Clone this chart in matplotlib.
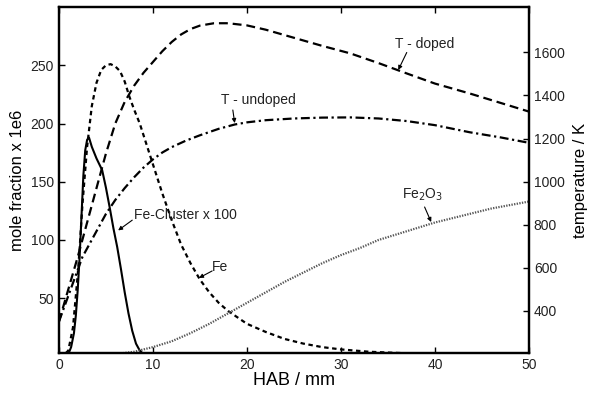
import matplotlib
matplotlib.use('Agg')
import matplotlib.pyplot as plt

plt.rcParams['font.family'] = ['Liberation Sans', 'DejaVu Sans']

# --- data (HAB in mm) ---
fe_cluster_x = [0, 0.5, 1.0, 1.3, 1.6, 1.8, 2.0, 2.2, 2.4, 2.6, 2.8, 3.0, 3.2, 3.5, 4.0,
                4.6, 5.0, 5.4, 5.8, 6.2, 6.6, 7.0, 7.4, 7.8, 8.2, 8.6, 9.0, 9.5, 10]
fe_cluster_y = [0, 0, 2, 8, 20, 35, 57, 85, 120, 155, 177, 186, 188, 180, 170,
                160, 145, 128, 110, 94, 75, 55, 37, 22, 11, 5, 2, 0, 0]

fe_x = [0, 0.5, 1.0, 1.5, 2.0, 2.2, 2.5, 3.0, 3.5, 4.0, 4.5, 5.0, 5.5, 6.0, 6.5, 7.0,
        7.5, 8.0, 8.6, 9.0, 10, 11, 12, 13, 14, 15, 16, 17, 18, 20, 22, 24, 26, 28,
        30, 33, 36, 40, 45, 50]
fe_y = [0, 1, 5, 25, 70, 92, 130, 180, 215, 235, 246, 250, 251, 249, 245, 236,
        223, 212, 200, 190, 165, 140, 117, 96, 80, 66, 55, 46, 39, 28, 21, 15, 11, 8,
        6, 4, 3, 2, 1.5, 1]

fe2o3_x = [0, 2, 4, 6, 8, 10, 12, 14, 16, 18, 20, 22, 24, 26, 28, 30, 32, 34, 36,
           38, 40, 42, 44, 46, 48, 50]
fe2o3_y = [0, 0, 0.5, 2, 4, 8, 13, 20, 28, 37, 46, 55, 64, 72, 80, 87, 93, 100, 105,
           110, 115, 119, 123, 127, 130, 133]

t_doped_x = [0, 1, 2, 3, 4, 5, 6, 7, 8, 9, 10, 11, 12, 13, 14, 15, 16.5, 18, 20,
             22, 24, 26, 28, 31, 34, 37, 40, 43.7, 47, 50]
t_doped_y = [350, 500, 650, 810, 970, 1130, 1270, 1370, 1445, 1505, 1555, 1605, 1648,
             1683, 1708, 1724, 1735, 1735, 1725, 1705, 1680, 1655, 1630, 1595, 1550,
             1502, 1455, 1409, 1365, 1325]

t_undoped_x = [0, 1, 2, 2.5, 3, 4, 5, 6, 7, 8, 9, 10, 11, 12, 13.5, 15, 17, 18.7, 20,
               22, 25, 28, 31, 34, 37, 40, 43.7, 47, 50]
t_undoped_y = [350, 470, 590, 650, 690, 770, 850, 915, 970, 1020, 1065, 1103, 1135,
               1160, 1190, 1215, 1245, 1265, 1275, 1285, 1293, 1297, 1298, 1293, 1281,
               1262, 1229, 1205, 1180]

fig = plt.figure(figsize=(5.95, 3.93), dpi=100)
ax = fig.add_axes([0.099, 0.102, 0.79, 0.88])
ax2 = ax.twinx()

ax.plot(fe_cluster_x, fe_cluster_y, color='k', lw=1.5, ls='-')
ax.plot(fe_x, fe_y, color='k', lw=1.6, ls=(0, (2.0, 1.6)))
ax.plot(fe2o3_x, fe2o3_y, color='#555555', lw=1.6, ls=(0, (0.6, 0.6)))
ax2.plot(t_doped_x, t_doped_y, color='k', lw=1.6, ls=(0, (4.0, 2.2)))
ax2.plot(t_undoped_x, t_undoped_y, color='k', lw=1.6, ls=(0, (4.0, 1.6, 1.0, 1.6)))

ax.set_xlim(0, 50)
ax.set_ylim(3, 300)
ax2.set_ylim(205, 1810)
ax.set_xticks([0, 10, 20, 30, 40, 50])
ax.set_yticks([50, 100, 150, 200, 250])
ax2.set_yticks([400, 600, 800, 1000, 1200, 1400, 1600])

ax.tick_params(axis='both', direction='in', length=4, width=1, labelsize=10,
               labelcolor='#222222', top=True)
ax2.tick_params(axis='y', direction='in', length=4, width=1, labelsize=10,
                labelcolor='#222222')
for a in (ax, ax2):
    for sp in a.spines.values():
        sp.set_linewidth(1.6)

ax.set_xlabel('HAB / mm', fontsize=13, labelpad=0)
ax.set_ylabel('mole fraction x 1e6', fontsize=12, labelpad=4)
ax2.set_ylabel('temperature / K', fontsize=12, labelpad=6)

# labels with small arrows (left-axis data coordinates)
arrow = dict(arrowstyle='-|>', lw=0.8, color='k', mutation_scale=6,
             shrinkA=0, shrinkB=0)
notes = [
    ('T - doped', (38.9, 268), (37.0, 261), (36.1, 246)),
    ('T - undoped', (21.2, 220), (18.5, 211.6), (18.7, 200.4)),
    ('Fe-Cluster x 100', (13.5, 121.5), (7.8, 117), (6.3, 108.2)),
    ('Fe', (17.1, 76.8), (16.3, 73.4), (14.9, 67.4)),
    ('Fe$_2$O$_3$', (38.7, 138.6), (38.9, 128.3), (39.6, 115.4)),
]
for label, txt, start, tip in notes:
    ax.text(txt[0], txt[1], label, fontsize=10, ha='center', va='center',
            color='#222222')
    ax.annotate('', xy=tip, xytext=start, arrowprops=arrow)

fig.savefig('out.png', dpi=100)
